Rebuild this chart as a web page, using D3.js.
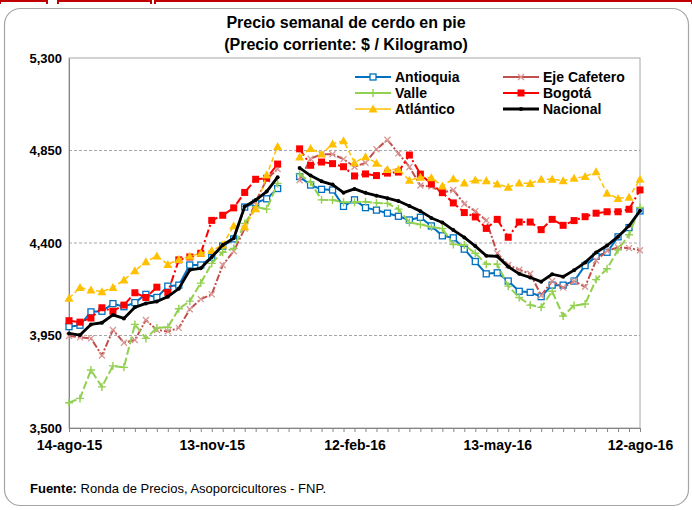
<!DOCTYPE html>
<html>
<head>
<meta charset="utf-8">
<script src="https://cdn.jsdelivr.net/npm/d3@7"></script>
<style>
  body { margin: 0; background: #fff; }
  svg text { font-family: "Liberation Sans", Arial, sans-serif; }
</style>
</head>
<body>
<svg id="chart" width="692" height="510"></svg>
<script>
// weekly prices, 14-ago-15 .. 12-ago-16 (53 weeks, week 20 without data)
var tickLabels = ["14-ago-15", "13-nov-15", "12-feb-16", "13-may-16", "12-ago-16"];
var tickWeeks = [0, 13, 26, 39, 52];
var yTicks = [3500, 3950, 4400, 4850, 5300];

var antioquia = [3993, 4000, 4065, 4068, 4105, 4090, 4110, 4150, 4135, 4190, 4195, 4293, 4293, 4330, 4385, 4420, 4575, 4595, 4615, 4665,
  null, 4723, 4682, 4661, 4658, 4578, 4610, 4572, 4560, 4545, 4530, 4512, 4525, 4483, 4435, 4425, 4370, 4310, 4250, 4255,
  4215, 4165, 4160, 4139, 4195, 4195, 4215, 4290, 4335, 4355, 4430, 4475, 4556];
var ejeCafetero = [3948, 3941, 3936, 3853, 3977, 3915, 3928, 4025, 3977, 3970, 3987, 4078, 4127, 4150, 4293, 4360, 4470, 4600, 4710, 4760,
  null, 4705, 4810, 4832, 4832, 4808, 4771, 4790, 4856, 4902, 4836, 4770, 4680, 4675, 4645, 4658, 4590, 4555, 4510, 4350,
  4293, 4270, 4250, 4145, 4215, 4183, 4215, 4187, 4315, 4362, 4378, 4375, 4365];
var valle = [3623, 3644, 3782, 3700, 3802, 3795, 4004, 3936, 3987, 3990, 4080, 4117, 4205, 4301, 4355, 4374, 4495, 4575, 4565, 4690,
  null, 4735, 4695, 4610, 4609, 4598, 4598, 4601, 4595, 4593, 4565, 4500, 4490, 4478, 4470, 4393, 4390, 4350, 4297, 4297,
  4190, 4135, 4098, 4087, 4165, 4045, 4096, 4103, 4222, 4275, 4367, 4440, 4573];
var bogota = [4022, 4015, 4035, 4085, 4068, 4098, 4158, 4135, 4185, 4159, 4318, 4332, 4350, 4510, 4535, 4571, 4646, 4710, 4715, 4784,
  null, 4858, 4778, 4794, 4786, 4771, 4726, 4736, 4728, 4740, 4745, 4828, 4735, 4687, 4645, 4595, 4548, 4527, 4471, 4515,
  4428, 4502, 4502, 4465, 4515, 4486, 4509, 4528, 4545, 4552, 4552, 4564, 4658];
var atlantico = [4131, 4184, 4171, 4163, 4184, 4220, 4265, 4309, 4337, 4296, 4320, 4335, 4350, 4363, 4390, 4484, 4479, 4567, 4731, 4870,
  null, 4818, 4860, 4833, 4882, 4898, 4791, 4820, 4788, 4758, 4758, 4705, 4720, 4718, 4677, 4712, 4692, 4706, 4703, 4687,
  4671, 4692, 4690, 4710, 4710, 4703, 4715, 4723, 4747, 4642, 4617, 4622, 4710];
var nacional = [3960, 3952, 4004, 4012, 4050, 4033, 4087, 4106, 4115, 4139, 4178, 4269, 4277, 4332, 4390, 4423, 4577, 4609, 4650, 4720,
  null, 4765, 4728, 4700, 4684, 4645, 4663, 4644, 4630, 4618, 4604, 4580, 4555, 4522, 4500, 4463, 4427, 4385, 4338, 4335,
  4285, 4250, 4232, 4212, 4248, 4236, 4268, 4305, 4354, 4388, 4431, 4484, 4557];

var series = [
  {name: "Antioquia",    values: antioquia,   color: "#0070C0", dash: null,        width: 2,   marker: "squareOpen"},
  {name: "Eje Cafetero", values: ejeCafetero, color: "#C0504D", dash: "7,2,2,2",   width: 2,   marker: "cross"},
  {name: "Valle",        values: valle,       color: "#92D050", dash: "8,3",       width: 2,   marker: "plus"},
  {name: "Bogotá",       values: bogota,      color: "#FF0000", dash: "8,3,2,3",   width: 2,   marker: "square"},
  {name: "Atlántico",    values: atlantico,   color: "#FFC000", dash: "5,3",       width: 1.5, marker: "triangle"},
  {name: "Nacional",     values: nacional,    color: "#000000", dash: null,        width: 2.8, marker: "dot"}
];

var svg = d3.select("#chart");
var margin = {top: 58, right: 52, bottom: 82, left: 69},
    width = 692 - margin.left - margin.right,
    height = 510 - margin.top - margin.bottom;

// outer frame + red strip on top
svg.append("rect")
  .attr("x", 4.5).attr("y", 8.5)
  .attr("width", 684).attr("height", 497)
  .attr("rx", 16).attr("ry", 16)
  .style("fill", "#fff")
  .style("stroke", "#a6a6a6")
  .style("stroke-width", 1.2);

[[0, 47], [58, 151], [155, 692]].forEach(function (s) {
  svg.append("path")
    .attr("d", "M" + s[0] + ",4V1H" + s[1] + "V4")
    .style("fill", "none")
    .style("stroke", "#C00000")
    .style("stroke-width", 2);
});

// title
var title = svg.append("text")
  .attr("x", 346).attr("y", 28)
  .attr("text-anchor", "middle")
  .style("font-size", "16px")
  .style("font-weight", "bold");
title.append("tspan").attr("x", 346).text("Precio semanal de cerdo en pie");
title.append("tspan").attr("x", 346).attr("dy", 22).text("(Precio corriente: $ / Kilogramo)");

var g = svg.append("g")
  .attr("transform", "translate(" + margin.left + "," + margin.top + ")");

var x = d3.scaleLinear().domain([0, 52]).range([0, width]);
var y = d3.scaleLinear().domain([3500, 5300]).range([height, 0]);

// grid lines
g.selectAll("line.grid")
  .data(yTicks.slice(1, 4))
  .enter().append("line")
  .attr("class", "grid")
  .attr("x1", 0).attr("x2", width)
  .attr("y1", function (d) { return y(d); })
  .attr("y2", function (d) { return y(d); })
  .style("stroke", "#a6a6a6")
  .style("stroke-dasharray", "3,2");

// plot frame
g.append("rect")
  .attr("width", width).attr("height", height)
  .style("fill", "none")
  .style("stroke", "#a6a6a6")
  .style("stroke-width", 1);

// axes
var xAxis = d3.axisBottom(x)
  .tickValues(d3.range(0, 53))
  .tickSize(4)
  .tickPadding(8)
  .tickFormat(function (d) {
    var k = tickWeeks.indexOf(d);
    return k >= 0 ? tickLabels[k] : "";
  });

var gX = g.append("g")
  .attr("transform", "translate(0," + height + ")")
  .call(xAxis);
gX.select("path.domain").style("stroke", "#868686");
gX.selectAll(".tick line").style("stroke", "#868686");
gX.selectAll("text")
  .style("font-size", "14px")
  .style("font-weight", "bold")
  .style("fill", "#000");

var yAxis = d3.axisLeft(y)
  .tickValues(yTicks)
  .tickSize(0)
  .tickPadding(7)
  .tickFormat(d3.format(","));

var gY = g.append("g").call(yAxis);
gY.select("path.domain").style("stroke", "#868686");
gY.selectAll("text")
  .style("font-size", "13px")
  .style("font-weight", "bold")
  .style("fill", "#000");

// markers
function drawMarker(sel, type, color) {
  if (type === "squareOpen") {
    sel.append("rect").attr("x", -3).attr("y", -3).attr("width", 6).attr("height", 6)
      .style("fill", "#fff").style("stroke", color).style("stroke-width", 1.3);
  } else if (type === "square") {
    sel.append("rect").attr("x", -3.5).attr("y", -3.5).attr("width", 7).attr("height", 7)
      .style("fill", color);
  } else if (type === "triangle") {
    sel.append("path").attr("d", "M0,-4.5L4.5,3.5L-4.5,3.5Z").style("fill", color);
  } else if (type === "cross") {
    sel.append("path").attr("d", "M-3,-3L3,3M-3,3L3,-3")
      .style("stroke", "#D99694").style("stroke-width", 1.3);
  } else if (type === "plus") {
    sel.append("path").attr("d", "M-4,0H4M0,-4V4")
      .style("stroke", color).style("stroke-width", 1.4);
  } else if (type === "dot") {
    sel.append("circle").attr("r", 2).style("fill", color);
  }
}

var line = d3.line()
  .defined(function (d) { return d != null; })
  .x(function (d, i) { return x(i); })
  .y(function (d) { return y(d); });

series.forEach(function (s) {
  var sg = g.append("g");
  sg.append("path")
    .datum(s.values)
    .attr("d", line)
    .style("fill", "none")
    .style("stroke", s.color)
    .style("stroke-width", s.width)
    .style("stroke-dasharray", s.dash)
    .style("stroke-linejoin", "round");

  var pts = sg.selectAll("g.pt")
    .data(s.values.map(function (v, i) { return {i: i, v: v}; })
      .filter(function (d) { return d.v != null; }))
    .enter().append("g")
    .attr("class", "pt")
    .attr("transform", function (d) { return "translate(" + x(d.i) + "," + y(d.v) + ")"; });
  drawMarker(pts, s.marker, s.color);
});

// legend
var legendPos = [[355, 77], [503, 77], [355, 93], [503, 93], [355, 109], [503, 109]];
var leg = svg.selectAll("g.legend")
  .data(series)
  .enter().append("g")
  .attr("class", "legend")
  .attr("transform", function (d, i) { return "translate(" + legendPos[i][0] + "," + legendPos[i][1] + ")"; });

leg.append("line")
  .attr("x1", 0).attr("x2", 36)
  .style("stroke", function (d) { return d.color; })
  .style("stroke-width", function (d) { return d.width; });

leg.each(function (d) {
  var m = d3.select(this).append("g").attr("transform", "translate(18,0)");
  drawMarker(m, d.marker, d.color);
});

leg.append("text")
  .attr("x", 40).attr("y", 0).attr("dy", "0.35em")
  .style("font-size", "14px")
  .style("font-weight", "bold")
  .text(function (d) { return d.name; });

// source
var src = svg.append("text")
  .attr("x", 30).attr("y", 493)
  .style("font-size", "13px");
src.append("tspan").style("font-weight", "bold").text("Fuente: ");
src.append("tspan").text("Ronda de Precios, Asoporcicultores  - FNP.");
</script>
</body>
</html>
